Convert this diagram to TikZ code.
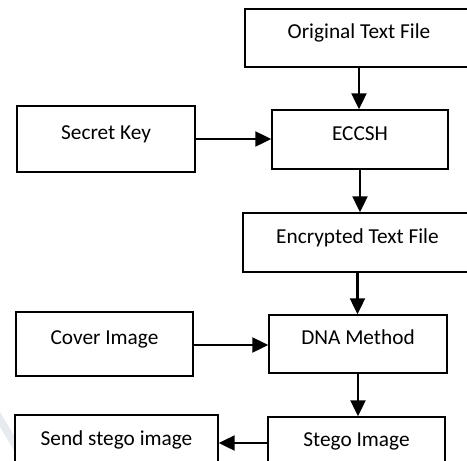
\documentclass[tikz,border=0pt]{standalone}
\usepackage{fontspec}
\setmainfont{Carlito}
\usepackage{tikz}
\usetikzlibrary{arrows.meta}

\begin{document}
\begin{tikzpicture}[x=1pt,y=-1pt]
					\tikzstyle{box}=[rectangle,draw=black,line width=1.4pt,inner sep=0pt,text height=14pt,text depth=13pt,font=\fontsize{21.3}{25}\selectfont]
					\tikzstyle{arr}=[line width=2.2pt,-{Triangle[length=16pt,width=15pt]}]
					\useasboundingbox (0,0) rectangle (467,461);
					\clip (0,0) rectangle (467,461);
					\fill[color={rgb,255:red,231;green,235;blue,240}] (0,412) -- (15,437) -- (15,452) -- (0,427) -- cycle;
					\node[box,minimum width=228pt,minimum height=58pt] (orig) at (359,38) {Original Text File};
					\node[box,minimum width=176pt,minimum height=59pt] (ecc) at (360,139.5) {ECCSH};
					\node[box,minimum width=178pt,minimum height=66pt] (key) at (106,139) {Secret Key};
					\node[box,minimum width=229pt,minimum height=59pt] (enc) at (357.5,242.5) {Encrypted Text File};
					\node[box,minimum width=178pt,minimum height=58pt] (dna) at (358,344) {DNA Method};
					\node[box,minimum width=177pt,minimum height=64pt] (cover) at (104.5,344) {Cover Image};
					\node[box,minimum width=177pt,minimum height=58pt] (stego) at (356.5,446) {Stego Image};
					\node[box,minimum width=203pt,minimum height=60pt] (send) at (116.5,445) {Send stego image};
					\draw[arr] (orig.south) -- (orig.south |- ecc.north);
					\draw[arr] (key.east) -- (key.east -| ecc.west);
					\draw[arr] (ecc.south) -- (ecc.south |- enc.north);
					\draw[arr] (enc.south) -- (enc.south |- dna.north);
					\draw[arr] (cover.east |- 0,345) -- (dna.west |- 0,345);
					\draw[arr] (dna.south) -- (dna.south |- stego.north);
					\draw[arr] (stego.west |- 0,443) -- (send.east |- 0,443);
\end{tikzpicture}
\end{document}
